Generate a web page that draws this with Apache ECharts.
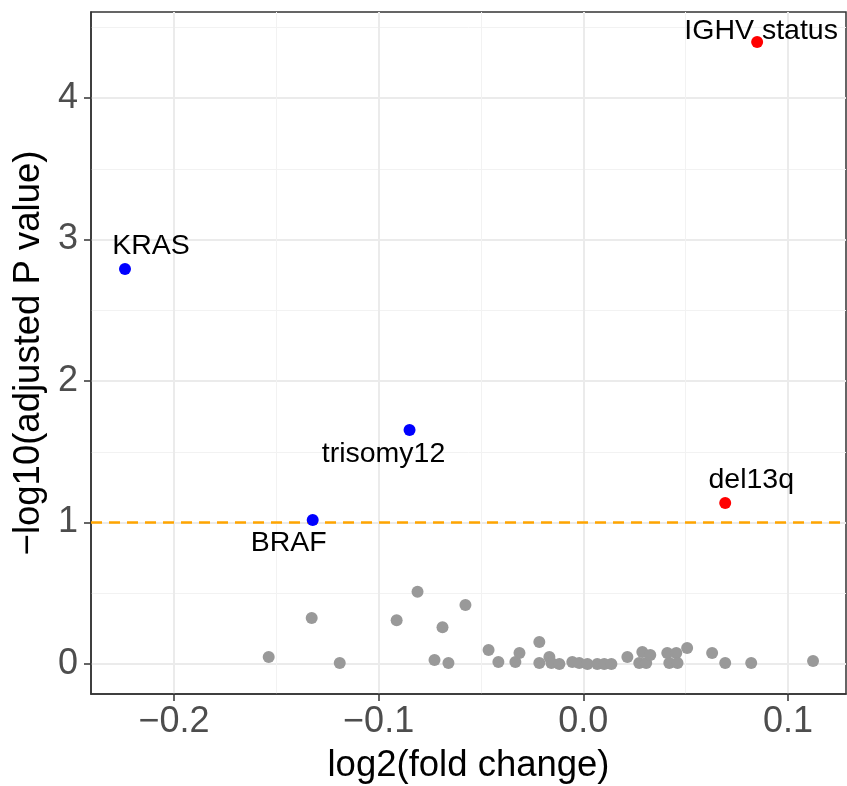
<!DOCTYPE html>
<html>
<head>
<meta charset="utf-8">
<script src="https://cdn.jsdelivr.net/npm/echarts@6/dist/echarts.min.js"></script>
<style>html,body{margin:0;padding:0;background:#fff}#c{width:847px;height:786px}</style>
</head>
<body>
<div id="c"></div>
<script>
// ---- data ----
const grayX = [-0.1537,-0.1327,-0.119,-0.0912,-0.081,-0.0727,-0.0688,-0.0659,-0.0576,-0.0463,-0.0415,-0.0332,-0.0312,-0.0215,-0.0215,-0.0166,-0.0156,-0.0117,-0.0054,-0.002,0.002,0.0068,0.0102,0.0137,0.0215,0.0273,0.0288,0.0307,0.0327,0.041,0.0420,0.0454,0.0460,0.0507,0.0629,0.0693,0.082,0.1122];
const grayY = [0.05,0.325,0.007,0.31,0.51,0.028,0.26,0.007,0.417,0.099,0.014,0.014,0.078,0.155,0.007,0.049,0.007,0.0,0.014,0.007,0.0,0.0,0.0,0.0,0.049,0.007,0.085,0.007,0.064,0.078,0.007,0.078,0.007,0.113,0.078,0.007,0.007,0.021];
const redNames = ['IGHV status','del13q'];
const redX = [0.0849,0.0693];
const redY = [4.396,1.138];
const blueNames = ['KRAS','trisomy12','BRAF'];
const blueX = [-0.2239,-0.0849,-0.1322];
const blueY = [2.792,1.654,1.018];
const xTicks = [-0.2,-0.1,0.0,0.1];
const xMinor = [-0.15,-0.05,0.05];
const yTicks = [0,1,2,3,4];
const yMinor = [0.5,1.5,2.5,3.5,4.5];
const threshold = 1;

// ---- layout / style ----
const labelOffsets = {
  'IGHV status':[4,-11], 'del13q':[26,-23], 'KRAS':[26,-23], 'trisomy12':[-26,24], 'BRAF':[-24,23]
};
const FONT = '"Liberation Sans", Arial, Helvetica, sans-serif';
const xlim = [-0.2405, 0.1283];
const ylim = [-0.212, 4.608];

function pts(xs, ys, names){
  return xs.map((x,i)=>{
    const d = {value:[x, ys[i]]};
    if (names){
      d.name = names[i];
      d.label = {show:true, formatter:names[i], position:'inside', offset:labelOffsets[names[i]]};
    }
    return d;
  });
}
function fmtX(v){
  if (Math.abs(v) < 1e-9) return '0.0';
  return (v<0?'\u2212':'') + Math.abs(v).toFixed(1);
}
const labelStyle = {color:'#000', fontSize:28.5, fontFamily:FONT};

const chart = echarts.init(document.getElementById('c'), null, {renderer:'canvas'});
chart.setOption({
  animation:false,
  backgroundColor:'#fff',
  grid:{left:91, right:1, top:12, bottom:92, outerBoundsMode:'none', containLabel:false,
        show:true, borderColor:'#333333', borderWidth:1.5, backgroundColor:'transparent'},
  xAxis:[{
    type:'value', min:xlim[0], max:xlim[1],
    axisLine:{show:true, onZero:false, lineStyle:{color:'#333333', width:1.5}},
    axisTick:{show:true, length:7, lineStyle:{color:'#333333', width:1.5}, customValues:xTicks},
    axisLabel:{customValues:xTicks, formatter:fmtX, color:'#4D4D4D', fontSize:36, fontFamily:FONT, margin:10},
    splitLine:{show:true, lineStyle:{color:'#EBEBEB', width:2}},
    name:'log2(fold change)', nameLocation:'middle', nameGap:53,
    nameTextStyle:{color:'#000', fontSize:36.5, fontFamily:FONT}
  },{
    type:'value', min:xlim[0], max:xlim[1], position:'bottom',
    axisLine:{show:false}, axisTick:{show:false, customValues:xMinor},
    axisLabel:{show:false, customValues:xMinor},
    splitLine:{show:true, lineStyle:{color:'#F2F2F2', width:1}}
  }],
  yAxis:[{
    type:'value', min:ylim[0], max:ylim[1],
    axisLine:{show:true, onZero:false, lineStyle:{color:'#333333', width:1.5}},
    axisTick:{show:true, length:7, lineStyle:{color:'#333333', width:1.5}, customValues:yTicks},
    axisLabel:{customValues:yTicks, formatter:v=>String(Math.round(v)), color:'#4D4D4D', fontSize:36, fontFamily:FONT, margin:13},
    splitLine:{show:true, lineStyle:{color:'#EBEBEB', width:2}},
    name:'\u2212log10(adjusted P value)', nameLocation:'middle', nameGap:37, nameRotate:90,
    nameTextStyle:{color:'#000', fontSize:36.5, fontFamily:FONT}
  },{
    type:'value', min:ylim[0], max:ylim[1], position:'left',
    axisLine:{show:false}, axisTick:{show:false, customValues:yMinor},
    axisLabel:{show:false, customValues:yMinor},
    splitLine:{show:true, lineStyle:{color:'#F2F2F2', width:1}}
  }],
  series:[
    {type:'scatter', xAxisIndex:0, yAxisIndex:0, symbolSize:12, itemStyle:{color:'#999999', opacity:1},
     data:pts(grayX, grayY), z:3,
     markLine:{silent:true, symbol:['none','none'], label:{show:false},
       lineStyle:{color:'#FFA500', type:[11,7], width:2.6}, data:[{yAxis:threshold}], z:2}},
    {type:'scatter', xAxisIndex:0, yAxisIndex:0, symbolSize:12, itemStyle:{color:'#FF0000', opacity:1},
     data:pts(redX, redY, redNames), z:4, label:labelStyle},
    {type:'scatter', xAxisIndex:0, yAxisIndex:0, symbolSize:12, itemStyle:{color:'#0000FF', opacity:1},
     data:pts(blueX, blueY, blueNames), z:4, label:labelStyle}
  ]
});
</script>
</body>
</html>
